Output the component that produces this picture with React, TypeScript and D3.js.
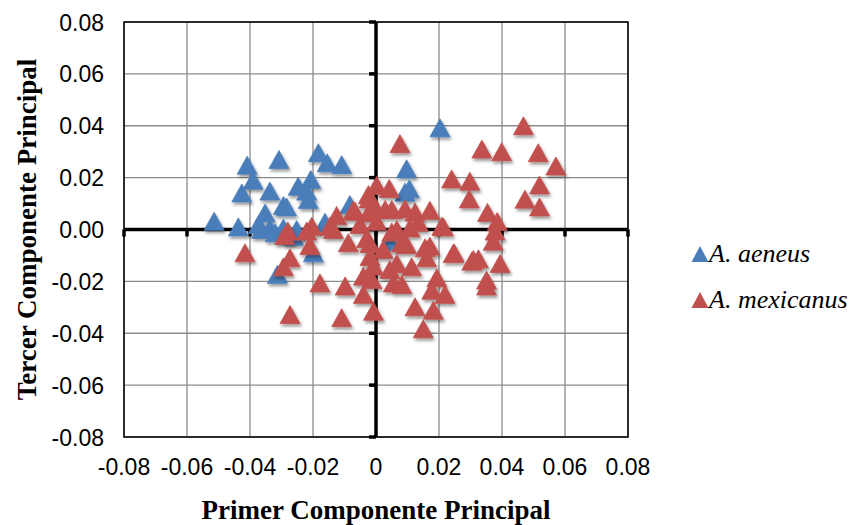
import React, { useEffect, useRef } from "react";
import * as d3 from "d3";

// Principal component scores: [PC1, PC3]
const aeneus: [number, number][] = [
  [0.0203, 0.0392], [-0.0514, 0.0032], [-0.0437, 0.001], [-0.0409, 0.0248],
  [-0.039, 0.019], [-0.0426, 0.0141], [-0.0337, 0.0148], [-0.0308, 0.027],
  [-0.0183, 0.0296], [-0.0155, 0.0257], [-0.0109, 0.025], [-0.0247, 0.0167],
  [-0.0207, 0.0193], [-0.022, 0.0148], [-0.0215, 0.0116], [-0.0294, 0.0093],
  [-0.0284, 0.0087], [-0.0352, 0.0064], [-0.0373, 0.0019], [-0.0363, 0.0],
  [-0.0337, 0.0006], [-0.032, -0.0013], [-0.0294, 0.0006], [-0.0252, 0.0],
  [-0.0162, 0.0028], [-0.0083, 0.0096], [-0.0199, -0.009], [-0.0313, -0.0173],
  [-0.0262, -0.0026], [0.0097, 0.0234], [0.0106, 0.0157], [0.0092, 0.0144],
  [0.0045, -0.0045],
];

const mexicanus: [number, number][] = [
  [-0.0416, -0.009], [-0.028, -0.0006], [-0.029, -0.0023], [-0.0273, -0.0109],
  [-0.0294, -0.0144], [-0.0204, 0.0013], [-0.021, -0.0062], [-0.0178, -0.0206],
  [-0.0098, -0.0218], [-0.004, -0.025], [-0.0125, 0.0054], [-0.0135, 0.0],
  [-0.0088, -0.0051], [-0.0067, 0.007], [-0.0024, 0.0135], [-0.0273, -0.0328],
  [0.0076, 0.0331], [0.0002, 0.017], [0.0042, 0.0158], [-0.0022, 0.0118],
  [0.024, 0.0195], [0.0298, 0.0186], [0.0296, 0.0118], [-0.0072, 0.0074],
  [-0.0024, 0.0064], [0.005, 0.0077], [0.0092, 0.008], [0.0124, 0.0067],
  [0.0171, 0.0074], [0.0209, 0.0013], [0.0134, 0.0028], [0.0066, 0.0],
  [0.0002, 0.0032], [-0.0051, 0.0019], [-0.0146, 0.0013], [-0.0019, -0.0054],
  [0.0023, -0.0077], [0.0097, -0.0058], [0.0171, -0.0064], [0.0161, -0.0109],
  [0.0245, -0.0093], [0.0304, -0.0122], [-0.0008, -0.0141], [-0.004, -0.018],
  [0.0066, -0.0131], [0.0113, -0.0144], [0.0055, -0.0206], [0.0082, -0.0212],
  [0.0193, -0.0186], [0.0177, -0.0234], [0.0219, -0.025], [-0.0008, -0.0315],
  [-0.0109, -0.034], [0.0124, -0.0298], [0.0182, -0.0311], [0.015, -0.0383],
  [0.0468, 0.04], [0.0336, 0.031], [0.0399, 0.03], [0.0515, 0.0296],
  [0.0571, 0.0245], [0.0519, 0.0172], [0.0473, 0.0117], [0.0519, 0.0087],
  [0.0354, 0.0066], [0.0385, 0.0031], [0.0378, -0.0006], [0.0372, -0.0045],
  [0.0214, 0.001], [0.0248, -0.009], [0.0309, -0.0116], [0.0325, -0.0113],
  [0.0394, -0.0131], [0.0351, -0.0195], [0.0351, -0.0218], [0.0029, 0.0077],
  [0.005, -0.001], [0.0108, 0.0006], [0.0156, -0.007], [0.0082, -0.0051],
  [0.0044, -0.0154], [-0.0013, -0.0193], [0.0002, 0.0077], [-0.003, -0.0035],
  [-0.0019, -0.0104], [-0.022, -0.0006],
];

const xTicks = [-0.08, -0.06, -0.04, -0.02, 0, 0.02, 0.04, 0.06, 0.08];
const yTicks = [-0.08, -0.06, -0.04, -0.02, 0, 0.02, 0.04, 0.06, 0.08];
const xTickLabels = ["-0.08", "-0.06", "-0.04", "-0.02", "0", "0.02", "0.04", "0.06", "0.08"];
const yTickLabels = ["-0.08", "-0.06", "-0.04", "-0.02", "0.00", "0.02", "0.04", "0.06", "0.08"];

const seriesNames = ["A. aeneus", "A. mexicanus"];
const seriesColors = ["#4a7ebb", "#c0504d"];

const W = 855;
const H = 525;
const plot = { left: 124, right: 628, top: 22, bottom: 437 };

// Triangle marker centred on its bounding box
const boxTriangle = (w: number, h: number) => ({
  draw(ctx: d3.Path) {
    ctx.moveTo(0, -h / 2);
    ctx.lineTo(w / 2, h / 2);
    ctx.lineTo(-w / 2, h / 2);
    ctx.closePath();
  },
});

export default function App() {
  const ref = useRef<SVGSVGElement>(null);

  useEffect(() => {
    const svg = d3.select(ref.current);
    svg.selectAll("*").remove();

    const x = d3.scaleLinear().domain([-0.08, 0.08]).range([plot.left, plot.right]);
    const y = d3.scaleLinear().domain([-0.08, 0.08]).range([plot.bottom, plot.top]);

    const defs = svg.append("defs");
    const f = defs
      .append("filter")
      .attr("id", "mshadow")
      .attr("x", "-50%")
      .attr("y", "-50%")
      .attr("width", "200%")
      .attr("height", "200%");
    f.append("feDropShadow")
      .attr("dx", 1.5)
      .attr("dy", 2.5)
      .attr("stdDeviation", 1.4)
      .attr("flood-color", "#000")
      .attr("flood-opacity", 0.4);

    svg.append("rect").attr("width", W).attr("height", H).attr("fill", "#fff");

    // grid
    const grid = svg.append("g");
    grid
      .selectAll("line.v")
      .data(xTicks)
      .join("line")
      .attr("x1", (d) => x(d))
      .attr("x2", (d) => x(d))
      .attr("y1", plot.top)
      .attr("y2", plot.bottom)
      .attr("stroke", "#8c8c8c")
      .attr("stroke-width", 1.3);
    grid
      .selectAll("line.h")
      .data(yTicks)
      .join("line")
      .attr("x1", plot.left)
      .attr("x2", plot.right)
      .attr("y1", (d) => y(d))
      .attr("y2", (d) => y(d))
      .attr("stroke", "#8c8c8c")
      .attr("stroke-width", 1.3);

    svg
      .append("rect")
      .attr("x", plot.left)
      .attr("y", plot.top)
      .attr("width", plot.right - plot.left)
      .attr("height", plot.bottom - plot.top)
      .attr("fill", "none")
      .attr("stroke", "#000")
      .attr("stroke-width", 1.5);

    // zero axes with tick marks
    const axes = svg.append("g");
    axes
      .append("line")
      .attr("x1", plot.left)
      .attr("x2", plot.right)
      .attr("y1", y(0))
      .attr("y2", y(0))
      .attr("stroke", "#000")
      .attr("stroke-width", 3.5);
    axes
      .append("line")
      .attr("x1", x(0))
      .attr("x2", x(0))
      .attr("y1", plot.top)
      .attr("y2", plot.bottom)
      .attr("stroke", "#000")
      .attr("stroke-width", 3.5);
    axes
      .selectAll("line.xt")
      .data(xTicks)
      .join("line")
      .attr("x1", (d) => x(d))
      .attr("x2", (d) => x(d))
      .attr("y1", y(0))
      .attr("y2", y(0) + 7)
      .attr("stroke", "#000")
      .attr("stroke-width", 3.5);
    axes
      .selectAll("line.yt")
      .data(yTicks)
      .join("line")
      .attr("x1", x(0) - 7)
      .attr("x2", x(0))
      .attr("y1", (d) => y(d))
      .attr("y2", (d) => y(d))
      .attr("stroke", "#000")
      .attr("stroke-width", 3.5);

    // tick labels
    const lab = svg
      .append("g")
      .attr("font-family", "Liberation Sans, Arial, sans-serif")
      .attr("font-size", 23)
      .attr("fill", "#000");
    lab
      .selectAll("text.x")
      .data(xTicks)
      .join("text")
      .attr("x", (d) => x(d))
      .attr("y", 475)
      .attr("text-anchor", "middle")
      .text((d, i) => xTickLabels[i]);
    lab
      .selectAll("text.y")
      .data(yTicks)
      .join("text")
      .attr("x", 104)
      .attr("y", (d) => y(d) + 8.5)
      .attr("text-anchor", "end")
      .text((d, i) => yTickLabels[i]);

    // axis titles
    svg
      .append("text")
      .attr("x", x(0))
      .attr("y", 519)
      .attr("text-anchor", "middle")
      .attr("font-family", "Liberation Serif, Times New Roman, serif")
      .attr("font-weight", "bold")
      .attr("font-size", 27)
      .text("Primer Componente Principal");
    svg
      .append("text")
      .attr("transform", `translate(36,${y(0)}) rotate(-90)`)
      .attr("text-anchor", "middle")
      .attr("font-family", "Liberation Serif, Times New Roman, serif")
      .attr("font-weight", "bold")
      .attr("font-size", 27)
      .text("Tercer Componente Principal");

    // points
    const marker = d3.symbol().type(boxTriangle(20, 18) as any)();
    const series = [aeneus, mexicanus];
    series.forEach((data, si) => {
      svg
        .append("g")
        .attr("filter", "url(#mshadow)")
        .selectAll("path")
        .data(data)
        .join("path")
        .attr("d", marker)
        .attr("transform", (d) => `translate(${x(d[0])},${y(d[1])})`)
        .attr("fill", seriesColors[si])
        .attr("stroke", seriesColors[si])
        .attr("stroke-width", 0.8);
    });

    // legend
    const legMarker = d3.symbol().type(boxTriangle(17, 16) as any)();
    const leg = svg.append("g");
    seriesNames.forEach((name, i) => {
      const cy = 254 + i * 46;
      leg
        .append("path")
        .attr("d", legMarker)
        .attr("transform", `translate(700,${cy})`)
        .attr("fill", seriesColors[i]);
      leg
        .append("text")
        .attr("x", 709)
        .attr("y", cy + 8)
        .attr("font-family", "Liberation Serif, Times New Roman, serif")
        .attr("font-style", "italic")
        .attr("font-size", 26)
        .attr("fill", "#000")
        .text(name);
    });
  }, []);

  return (
    <svg
      ref={ref}
      width={W}
      height={H}
      style={{ position: "absolute", left: 0, top: 0 }}
    />
  );
}
